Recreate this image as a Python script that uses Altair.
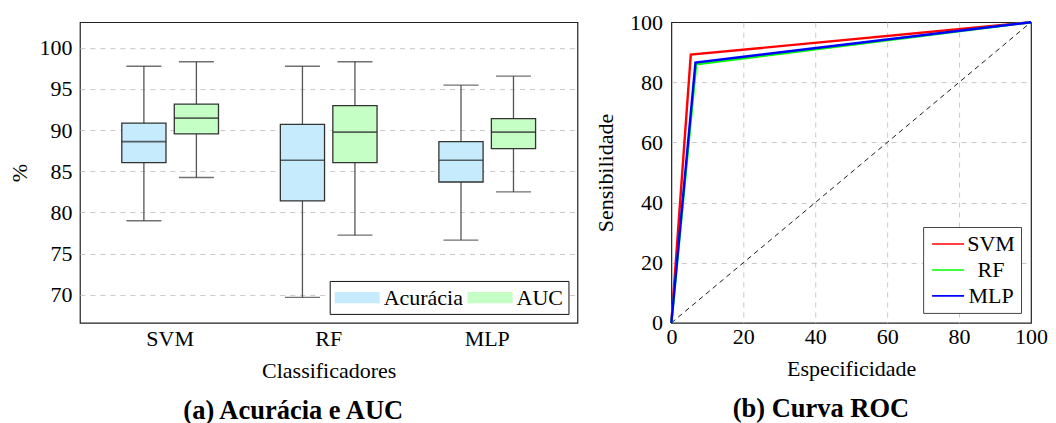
import altair as alt
import pandas as pd

# ---------------- data: box plots (panel a) ----------------
classificadores = ["SVM", "RF", "MLP"]
metricas = ["Acurácia", "AUC"]
box_clf = ["SVM", "SVM", "RF", "RF", "MLP", "MLP"]
box_met = ["Acurácia", "AUC", "Acurácia", "AUC", "Acurácia", "AUC"]
box_lower = [79.0, 84.25, 69.7, 77.25, 76.65, 82.5]
box_q1 = [86.05, 89.55, 81.4, 86.05, 83.7, 87.75]
box_median = [88.6, 91.45, 86.35, 89.75, 86.35, 89.75]
box_q3 = [90.85, 93.15, 90.7, 92.97, 88.6, 91.4]
box_upper = [97.75, 98.3, 97.75, 98.3, 95.45, 96.55]
y_ticks_a = [70, 75, 80, 85, 90, 95, 100]

# ---------------- data: ROC curves (panel b) ----------------
modelos = ["SVM", "RF", "MLP"]
roc_model = ["SVM", "SVM", "SVM", "RF", "RF", "RF", "MLP", "MLP", "MLP"]
roc_x = [0, 5.4, 100, 0, 6.9, 100, 0, 6.7, 100]
roc_y = [0, 89.2, 100, 0, 86.0, 100, 0, 86.6, 100]
diag_x = [0, 100]
diag_y = [0, 100]
ticks_b = [0, 20, 40, 60, 80, 100]

SERIF = "Liberation Serif"
FS = 22
CAP = 26.5

box_df = pd.DataFrame({
    "Classificador": box_clf, "Metrica": box_met,
    "lower": box_lower, "q1": box_q1, "median": box_median,
    "q3": box_q3, "upper": box_upper,
})
roc_df = pd.DataFrame({"Modelo": roc_model, "fp": roc_x, "tp": roc_y})
diag_df = pd.DataFrame({"fp": diag_x, "tp": diag_y})

x_enc = alt.X("Classificador:N", sort=classificadores,
              scale=alt.Scale(paddingInner=0, paddingOuter=0.069),
              axis=alt.Axis(title="Classificadores", labelAngle=0, grid=False,
                            labelPadding=6, titlePadding=11))
xo_enc = alt.XOffset("Metrica:N", sort=metricas,
                     scale=alt.Scale(paddingInner=0.158, paddingOuter=0.589))
y_scale = alt.Scale(domain=[66.6, 103.1], nice=False, zero=False)

base = alt.Chart(box_df).encode(x=x_enc, xOffset=xo_enc)

whisk = base.mark_rule(color="#555555", strokeWidth=1.3).encode(
    y=alt.Y("lower:Q", scale=y_scale,
            axis=alt.Axis(title="%", values=y_ticks_a, grid=True,
                          labelPadding=8, titlePadding=7)),
    y2="upper:Q")
boxes = base.mark_bar(stroke="#333333", strokeWidth=1.3).encode(
    y=alt.Y("q1:Q", scale=y_scale), y2="q3:Q",
    color=alt.Color("Metrica:N", sort=metricas,
                    scale=alt.Scale(domain=metricas, range=["#c6ebfd", "#c5ffc5"]),
                    legend=alt.Legend(
                        title=None, orient="bottom-right", direction="horizontal",
                        symbolType="M-2,-0.5H2V0.5H-2Z", symbolSize=506,
                        symbolOffset=11, symbolStrokeWidth=0, symbolOpacity=1,
                        labelFont=SERIF, labelFontSize=FS, labelColor="black",
                        labelOffset=15, columnPadding=4, padding=5, offset=9,
                        fillColor="white", strokeColor="#111111")))
cap_lo = base.mark_tick(color="#333333", size=35, thickness=1.3).encode(
    y=alt.Y("lower:Q", scale=y_scale))
cap_hi = base.mark_tick(color="#333333", size=35, thickness=1.3).encode(
    y=alt.Y("upper:Q", scale=y_scale))
med = base.mark_tick(color="#222222", size=44, thickness=1.6).encode(
    y=alt.Y("median:Q", scale=y_scale))

left = alt.layer(whisk, boxes, cap_lo, cap_hi, med).properties(
    width=498, height=301,
    title=alt.TitleParams("(a) Acurácia e AUC", orient="bottom", anchor="middle",
                          frame="bounds", font=SERIF, fontSize=CAP,
                          fontWeight="bold", offset=16, color="black"))

# ---------------- panel b ----------------
edge_hide = {"condition": {"test": "datum.value <= 0 || datum.value >= 100",
                           "value": 0}, "value": 1}
xb = alt.X("fp:Q", scale=alt.Scale(domain=[0, 100], nice=False),
           axis=alt.Axis(title="Especificidade", values=ticks_b, labelFlush=False,
                         labelPadding=4, titlePadding=11, gridOpacity=edge_hide))
yb = alt.Y("tp:Q", scale=alt.Scale(domain=[0, 100], nice=False),
           axis=alt.Axis(title="Sensibilidade", values=ticks_b, labelFlush=False,
                         labelPadding=9, titlePadding=12, gridOpacity=edge_hide))

diag = alt.Chart(diag_df).mark_line(color="black", strokeWidth=0.9,
                                    strokeDash=[5, 4]).encode(x=xb, y=yb)
color_b = alt.Color("Modelo:N", sort=modelos,
                    scale=alt.Scale(domain=modelos, range=["#ff0000", "#00ff00", "#0000ff"]),
                    legend=alt.Legend(
                        title=None, orient="bottom-right", direction="vertical",
                        symbolType="M-2,0H2", symbolSize=256, symbolStrokeWidth=1.6,
                        symbolOffset=8,
                        labelFont=SERIF, labelFontSize=FS, labelColor="black",
                        labelAlign="center", labelOffset=32, rowPadding=4,
                        padding=6, offset=10,
                        fillColor="white", strokeColor="#444444"))
roc_layers = [
    alt.Chart(roc_df).transform_filter(alt.datum.Modelo == m)
    .mark_line(strokeWidth=2.4).encode(x=xb, y=yb, color=color_b)
    for m in modelos
]
right = alt.layer(diag, *roc_layers).properties(
    width=360, height=301,
    title=alt.TitleParams("(b) Curva ROC", orient="bottom", anchor="middle",
                          frame="bounds", font=SERIF, fontSize=CAP,
                          fontWeight="bold", offset=16, color="black"))

chart = alt.hconcat(left, right, spacing=94, bounds="flush").resolve_scale(
    color="independent", x="independent", y="independent"
).resolve_legend(color="independent").properties(
    padding={"left": 0, "top": 2, "right": -1, "bottom": 0}
).configure_view(stroke="#222222", strokeWidth=1.2).configure_axis(
    labelFont=SERIF, titleFont=SERIF, labelFontSize=FS, titleFontSize=FS,
    titleFontWeight="normal", labelColor="black", titleColor="black",
    domain=False, ticks=False, gridColor="#c8c8c8", gridDash=[5, 5],
    gridWidth=1)

chart.save("out.html", embed_options={"renderer": "svg", "actions": False})
